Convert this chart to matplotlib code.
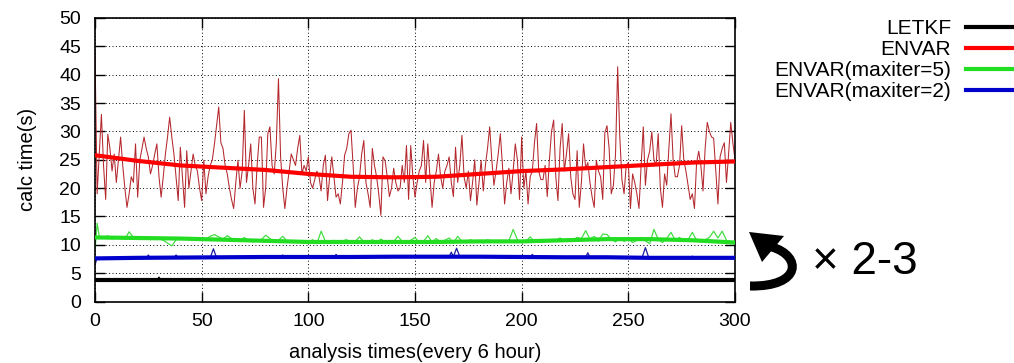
import numpy as np
import matplotlib.pyplot as plt
from matplotlib.path import Path
from matplotlib.patches import PathPatch, Polygon

plt.rcParams['font.family'] = ['Liberation Sans', 'DejaVu Sans']

# ENVAR raw calc time, one value per analysis time (0..300)
envar_raw = [
    44, 19, 26, 33, 24, 18, 29.5, 27, 23, 26,
    21, 25, 29, 24, 20, 16.6, 19, 22, 21, 27.8,
    18.4, 24.9, 27, 29, 27, 25.5, 22.5, 24, 26, 27.8,
    22, 18.4, 22, 26, 29, 32.5, 29, 26, 22, 17.8,
    27.2, 22, 16.6, 26.6, 20, 23, 26, 24, 23, 20,
    17.8, 24.9, 19, 22, 24, 25, 27.8, 31, 34.3, 28,
    27, 24, 22.5, 20, 18, 16.4, 21, 24.9, 20, 23,
    33.7, 21, 24, 27.8, 20, 17.2, 24, 29, 29, 16.6,
    20, 29.6, 30.8, 24, 22.5, 28, 39.3, 25.5, 20, 16.4,
    20, 23, 26, 25, 24, 27, 29.3, 22.5, 24, 23,
    25.5, 21, 20, 21.5, 23, 22, 19.5, 24, 25.8, 17.8,
    22, 25.5, 22, 18.4, 19, 17.2, 21, 25.8, 27, 29.6,
    30.2, 24, 16.6, 20, 22, 26, 28.4, 21, 19, 16.6,
    27, 24, 22, 19, 15.2, 25.5, 24.8, 22, 18.5, 20,
    23.5, 21, 19.5, 20, 24, 21, 27.5, 18, 27.5, 22,
    18.4, 21, 23, 24, 28.4, 21, 27.8, 22, 16.6, 21,
    23, 26, 22, 20, 23, 24, 25.5, 21, 18.5, 27.2,
    21, 24, 29.3, 22, 20, 23, 17.8, 21, 25, 17,
    21, 24.9, 19.5, 24, 27, 30.8, 25, 20.5, 23, 26,
    29.6, 24, 17.2, 21, 23.5, 19, 23, 27.8, 25, 18,
    29, 20, 23, 17.2, 22, 23, 28, 31.4, 23, 21.5,
    21.5, 24, 18.5, 25, 30, 32, 22, 17.8, 27, 31.4,
    23, 26, 29.6, 22, 19, 18, 26.6, 16.6, 21, 27.8,
    23.5, 24.5, 21, 18.5, 16.6, 24.9, 23, 22, 18, 29.8,
    31, 27, 19, 20.5, 26, 41.4, 29, 21.5, 19, 24,
    24.5, 16.4, 22.5, 21, 19, 16.4, 24, 30.8, 20.5, 25,
    26.5, 29.9, 25, 24, 29.6, 20, 16.6, 22.5, 20.5, 27,
    33.1, 25, 22, 22, 24, 31, 25, 23, 20.5, 18,
    19, 16.4, 24.5, 26.5, 24, 19.5, 27, 31.6, 30, 29,
    28.8, 23, 17.2, 25.5, 27, 28, 21, 26, 31.6, 28, 25,
]

# ENVAR(maxiter=5) raw
green_x = [0, 1] + list(range(2, 301, 2))
green_raw = [
    9.0, 13.8,
    11.5, 11.2, 11.6, 11.0, 11.4, 11.2, 11.0, 12.3, 11.3, 11.0,
    11.4, 11.2, 10.9, 11.3, 11.1, 10.8, 10.3, 9.8, 10.9, 11.2,
    11.0, 11.3, 11.1, 10.9, 11.2, 11.0, 11.5, 11.8, 11.4, 11.0,
    11.6, 11.1, 10.8, 10.6, 11.3, 10.7, 10.5, 10.8, 10.9, 11.7,
    11.1, 10.6, 10.8, 11.5, 10.6, 10.4, 10.7, 10.5, 10.3, 10.4,
    10.9, 10.2, 12.4, 10.6, 10.3, 10.8, 10.4, 10.7, 10.9, 10.3,
    10.6, 11.4, 10.5, 10.3, 10.9, 10.4, 11.0, 10.5, 10.2, 10.6,
    11.5, 10.6, 10.3, 10.8, 11.3, 10.4, 10.6, 11.6, 10.5, 11.1,
    10.4, 10.8, 11.2, 10.3, 11.5, 10.6, 10.4, 10.9, 10.5, 10.7,
    10.3, 10.9, 10.6, 10.4, 10.8, 10.5, 10.7, 12.7, 10.9, 10.4,
    10.6, 11.4, 10.5, 10.7, 10.4, 10.9, 10.6, 10.8, 11.2, 10.7,
    11.0, 10.8, 11.3, 11.1, 12.5, 11.0, 11.5, 10.6, 11.9, 11.8,
    11.0, 10.5, 11.2, 10.6, 11.0, 10.4, 10.8, 11.3, 10.7, 10.2,
    12.7, 11.0, 10.4, 11.1, 12.2, 10.8, 11.3, 10.6, 10.9, 12.2,
    10.8, 10.5, 10.9, 11.3, 12.4, 11.2, 12.4, 10.8, 10.5, 10.3,
]

# ENVAR(maxiter=2) raw
blue_x = [0, 1, 3, 24, 25, 26, 37, 38, 39, 54, 55.5, 57, 87, 88, 89,
          112, 113, 114, 150, 151, 152, 166, 167, 168, 169.5, 171,
          204, 205, 206, 230, 231, 232, 256.5, 258, 259.5, 279, 280, 281, 300]
blue_raw = [6.4, 7.8, 7.5, 7.6, 8.2, 7.6, 7.7, 8.2, 7.7, 7.7, 9.3, 7.7, 7.8, 8.2, 7.8,
            7.8, 8.3, 7.8, 7.9, 8.1, 7.9, 7.9, 8.7, 7.9, 9.4, 7.9,
            7.9, 8.3, 7.9, 7.8, 8.6, 7.8, 7.8, 9.5, 7.8, 7.7, 8.0, 7.7, 7.7]

# LETKF raw
letkf_x = [0, 29, 30, 31, 170, 171, 172, 258, 259, 260, 300]
letkf_raw = [3.75, 3.75, 4.3, 3.75, 3.75, 4.1, 3.75, 3.75, 4.0, 3.75, 3.75]

# smoothed trends, every 20 analysis times
trend_x = list(range(0, 301, 20))
envar_trend = [25.8, 24.8, 24.0, 23.6, 23.2, 22.5, 22.0, 21.9, 22.0, 22.5,
               23.0, 23.3, 23.7, 24.1, 24.5, 24.7]
maxit5_trend = [11.3, 11.2, 11.1, 10.9, 10.7, 10.5, 10.5, 10.5, 10.5, 10.6,
                10.6, 10.8, 11.0, 11.0, 10.8, 10.4]
maxit2_trend = [7.6, 7.7, 7.75, 7.8, 7.85, 7.85, 7.85, 7.9, 7.9, 7.9,
                7.85, 7.8, 7.8, 7.7, 7.7, 7.7]
letkf_trend = [3.75] * len(trend_x)

labels = ["LETKF", "ENVAR", "ENVAR(maxiter=5)", "ENVAR(maxiter=2)"]

fig = plt.figure(figsize=(10.14, 3.63), dpi=100)
ax = fig.add_axes([95 / 1014, 1 - 301.5 / 363, 640 / 1014, 283.5 / 363])

# thin raw series
ax.plot(np.arange(len(envar_raw)), envar_raw, color="#b4282e", lw=0.75, zorder=2)
ax.plot(green_x, green_raw, color="#44dd44", lw=0.9, zorder=2)
ax.plot(blue_x, blue_raw, color="#1a1aa0", lw=0.9, zorder=2)
ax.plot(letkf_x, letkf_raw, color="black", lw=0.9, zorder=2)

# thick trends (legend handles)
h_letkf, = ax.plot(trend_x, letkf_trend, color="black", lw=3, zorder=3)
h_envar, = ax.plot(trend_x, envar_trend, color="#ff0000", lw=3, zorder=3)
h_m5, = ax.plot(trend_x, maxit5_trend, color="#22dd22", lw=3, zorder=3)
h_m2, = ax.plot(trend_x, maxit2_trend, color="#0000cc", lw=3, zorder=3)

ax.set_xlim(0, 300)
ax.set_ylim(0, 50)
ax.set_xticks(range(0, 301, 50))
ax.set_yticks(range(0, 51, 5))
ax.grid(True, color="black", linestyle=(0, (1, 2.5)), linewidth=0.7)
ax.set_axisbelow(True)
ax.tick_params(direction="in", length=7, width=1, top=True, right=True,
               labelsize=14)
ax.tick_params(axis="x", pad=8)
ax.tick_params(axis="y", pad=10)
for s in ax.spines.values():
    s.set_linewidth(1.2)

ax.set_xlabel("analysis times(every 6 hour)", fontsize=14.5, labelpad=10)
ax.set_ylabel("calc time(s)", fontsize=14.5, labelpad=16)

fig.legend([h_letkf, h_envar, h_m5, h_m2], labels,
           loc="upper right", bbox_to_anchor=(1024 / 1014, 1 - 19 / 363),
           frameon=False, markerfirst=False, fontsize=15,
           handlelength=2.8, handletextpad=0.7, labelspacing=0.1,
           borderpad=0, borderaxespad=0)

# curved "x 2-3" arrow (pixel positions -> figure fraction)
px = lambda x, y: (x / 1014, 1 - y / 363)
curve = Path([px(772, 247), px(802, 256), px(802, 287), px(750, 286)],
             [Path.MOVETO, Path.CURVE4, Path.CURVE4, Path.CURVE4])
fig.add_artist(PathPatch(curve, transform=fig.transFigure, fill=False,
                         lw=6.5, edgecolor="black", capstyle="butt"))
fig.add_artist(Polygon([px(749, 232), px(784, 236), px(762, 262)], closed=True,
                       transform=fig.transFigure, color="black", lw=0))
fig.text(812 / 1014, 1 - 262 / 363, "× 2-3", fontsize=33, ha="left", va="center")

fig.savefig("out.png", dpi=100)
